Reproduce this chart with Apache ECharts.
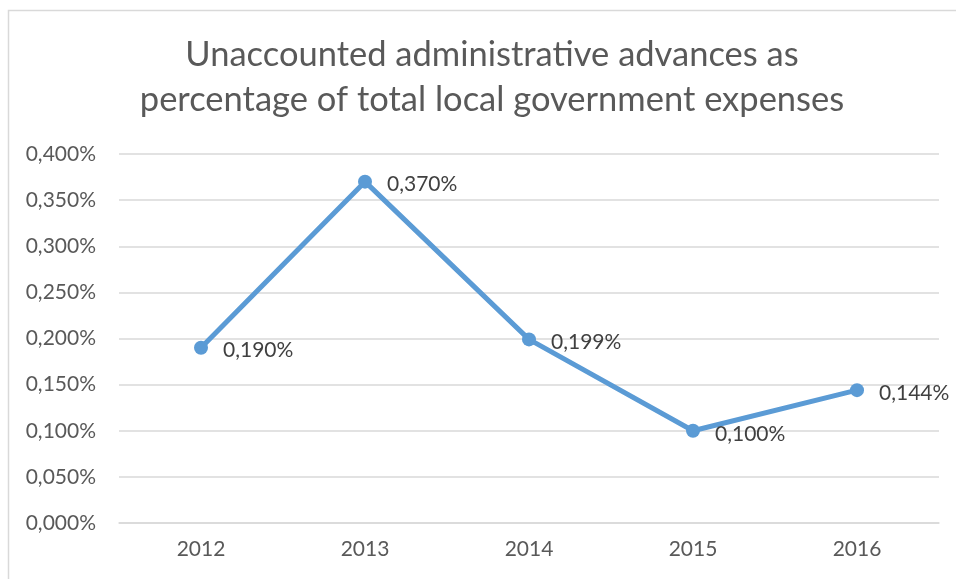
<!DOCTYPE html>
<html>
<head>
<meta charset="utf-8">
<script src="https://cdn.jsdelivr.net/npm/echarts@6/dist/echarts.min.js"></script>
<style>
  html, body { margin: 0; padding: 0; background: #fff; }
  #chart { width: 956px; height: 579px; }
</style>
</head>
<body>
<div id="chart"></div>
<script>
// Unaccounted administrative advances, share of local government expenses (%)
const years = ['2012', '2013', '2014', '2015', '2016'];
const shares = [0.190, 0.370, 0.199, 0.100, 0.144];
const titleText = 'Unaccounted administrative advances as\npercentage of total local government expenses';

const FONT = 'Lato, "Open Sans", sans-serif';
const fmt = v => v.toFixed(3).replace('.', ',') + '%';

const chart = echarts.init(document.getElementById('chart'), null, { renderer: 'canvas' });
chart.setOption({
  backgroundColor: '#ffffff',
  animation: false,
  title: {
    text: titleText,
    left: 487,
    top: 27,
    textAlign: 'center',
    textStyle: {
      fontFamily: FONT,
      fontSize: 34.5,
      fontWeight: 'normal',
      color: '#595959',
      lineHeight: 45
    }
  },
  graphic: [{
    type: 'rect',
    shape: { x: 8.5, y: 10.5, width: 1000, height: 1000 },
    style: { fill: 'none', stroke: '#d9d9d9', lineWidth: 1.5 },
    silent: true
  }],
  grid: { left: 119, right: 17, top: 154, bottom: 56, containLabel: false },
  xAxis: {
    type: 'category',
    data: years,
    boundaryGap: true,
    axisLine: { show: true, lineStyle: { color: '#d9d9d9', width: 1.5 } },
    axisTick: { show: false },
    axisLabel: { fontFamily: FONT, fontSize: 21, color: '#595959', margin: 16 }
  },
  yAxis: {
    type: 'value',
    min: 0,
    max: 0.4,
    interval: 0.05,
    axisLine: { show: false },
    axisTick: { show: false },
    splitLine: { lineStyle: { color: '#d9d9d9', width: 1.5 } },
    axisLabel: {
      fontFamily: FONT, fontSize: 21, color: '#595959', margin: 23,
      formatter: v => fmt(v)
    }
  },
  series: [{
    type: 'line',
    data: shares,
    symbol: 'circle',
    symbolSize: 14,
    itemStyle: { color: '#5b9bd5' },
    lineStyle: { color: '#5b9bd5', width: 5 },
    label: {
      show: true,
      position: 'right',
      distance: 15,
      offset: [0, 3],
      fontFamily: FONT,
      fontSize: 21,
      color: '#404040',
      formatter: p => fmt(p.value)
    }
  }]
});
</script>
</body>
</html>
